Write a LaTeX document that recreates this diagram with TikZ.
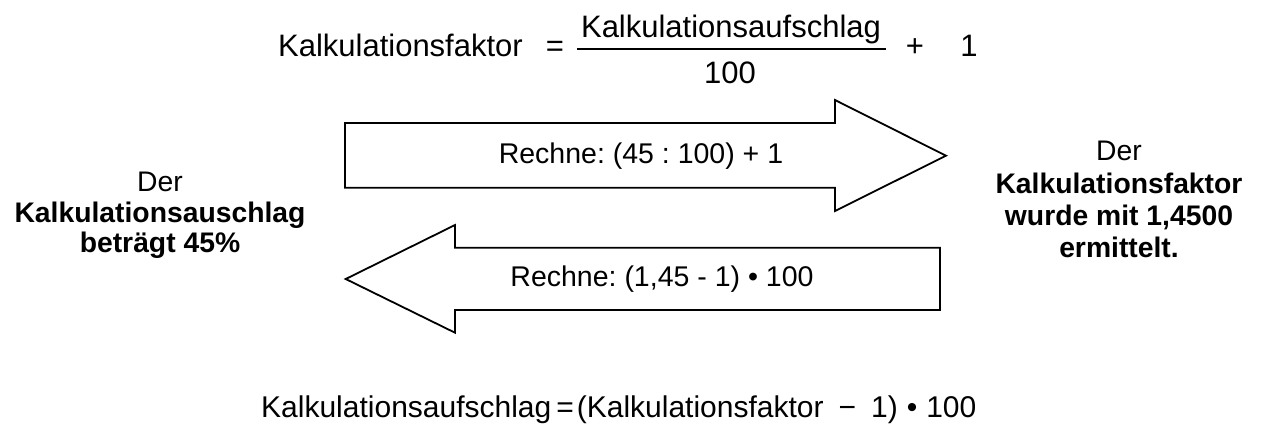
\documentclass[tikz,border=0pt]{standalone}
\usepackage{fontspec}
\setmainfont{Liberation Sans}
\frenchspacing
\begin{document}
\begin{tikzpicture}[x=1pt,y=-1pt,
  arrowbox/.style={draw=black,line width=1.8pt,fill=white,line join=miter},
  formula/.style={font=\fontsize{31}{36}\selectfont,inner sep=0pt},
  formulab/.style={font=\fontsize{30}{34}\selectfont,inner sep=0pt},
  arrowtext/.style={font=\fontsize{28.5}{32}\selectfont,inner sep=0pt},
  sidetext/.style={font=\fontsize{28.3}{32}\selectfont,inner sep=0pt},
  sidebold/.style={font=\fontsize{28.3}{32}\selectfont\bfseries,inner sep=0pt}]
\useasboundingbox (0,0) rectangle (1266,426);
\fill[white] (0,0) rectangle (1266,426);

% top formula
\node[formula,anchor=base east] (kf) at (523,56) {Kalkulationsfaktor};
\node[formula,anchor=base] (eq1) at (555,56) {=};
\coordinate (fl) at (577,49);
\coordinate (fr) at (886,49);
\draw[line width=1.4pt] (fl) -- (fr);
\node[formula,anchor=base] (num) at (731,37) {Kalkulationsaufschlag};
\node[formula,anchor=base] (den) at (730,83) {100};
\node[formula,anchor=base] (plus) at (915,56) {+};
\node[formula,anchor=base] (one) at (969,56) {1};

% right arrow
\draw[arrowbox] (345,123) coordinate (ra1) -- (835,123) -- (835,100) -- (946,155.7) coordinate (ratip)
  -- (835,211) -- (835,187.7) -- (345,187.7) -- cycle;
\node[arrowtext,anchor=center] (rt) at (641,155.7) {\vphantom{R}Rechne: (45 : 100) + 1};

% left arrow
\draw[arrowbox] (940,247.7) coordinate (la1) -- (455,247.7) -- (455,225) -- (345.7,279) coordinate (latip)
  -- (455,332.7) -- (455,310) -- (940,310) -- cycle;
\node[arrowtext,anchor=center] (lt) at (662,279) {\vphantom{R}Rechne: (1,45 - 1) • 100};

% left text
\node[sidetext,anchor=base] (l1) at (160,191) {Der};
\node[sidebold,anchor=base] (l2) at (160,222) {Kalkulationsauschlag};
\node[sidebold,anchor=base] (l3) at (160,252) {beträgt 45\%};

% right text
\node[sidetext,anchor=base] (r1) at (1119,160) {Der};
\node[sidebold,anchor=base] (r2) at (1119,193) {Kalkulationsfaktor};
\node[sidebold,anchor=base] (r3) at (1119,225) {wurde mit 1,4500};
\node[sidebold,anchor=base] (r4) at (1119,257) {ermittelt.};

% bottom formula
\node[formulab,anchor=base west] (bf) at (261,417) {Kalkulationsaufschlag\hspace{5pt}=\hspace{3pt}(Kalkulationsfaktor\hspace{15pt}−\hspace{15pt}1)\hspace{9pt}•\hspace{9pt}100};
\end{tikzpicture}
\end{document}
